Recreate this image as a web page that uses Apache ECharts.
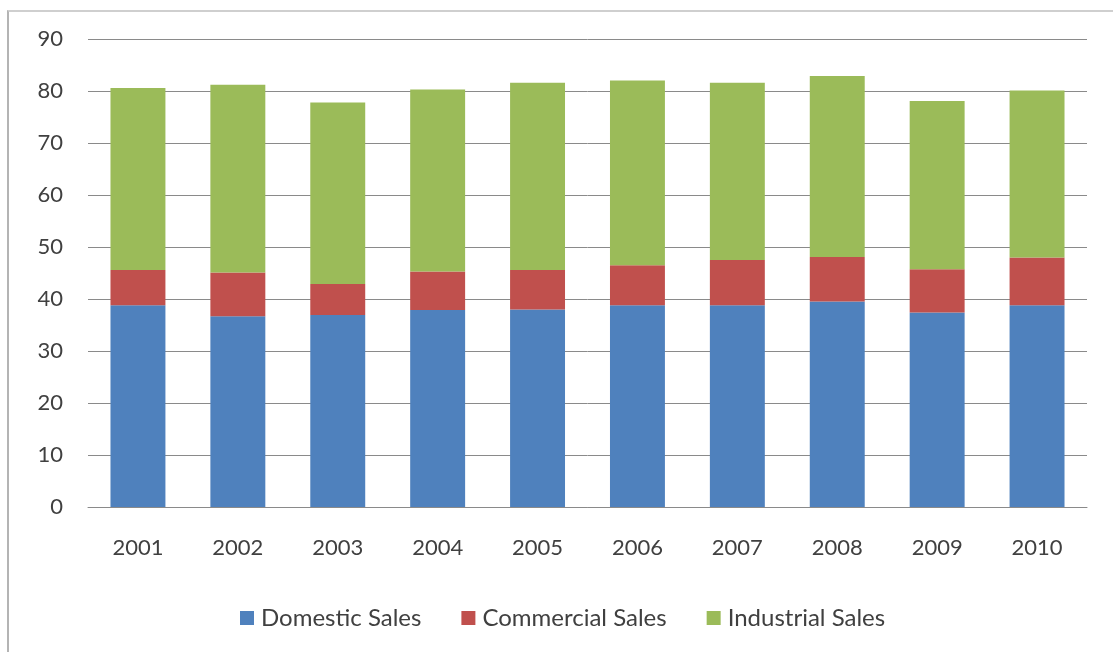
<!DOCTYPE html>
<html>
<head>
<meta charset="utf-8">
<script src="https://cdn.jsdelivr.net/npm/echarts@6/dist/echarts.min.js"></script>
<style>
  html, body { margin: 0; padding: 0; background: #ffffff; }
  #frame {
    position: absolute; left: 7px; top: 10px; width: 1120px; height: 660px;
    border-left: 2px solid #b4b4b4; border-top: 2px solid #cfcfcf;
    box-sizing: border-box;
  }
  #chart { position: absolute; left: 0; top: 0; width: 1113px; height: 652px; }
</style>
</head>
<body>
<div id="frame"></div>
<div id="chart"></div>
<script>
// Yearly sales split into three customer groups (stacked)
const years = ['2001', '2002', '2003', '2004', '2005', '2006', '2007', '2008', '2009', '2010'];
const domesticSales   = [38.8, 36.7, 36.9, 37.9, 38.0, 38.8, 38.8, 39.5, 37.4, 38.8];
const commercialSales = [6.8, 8.4, 6.0, 7.4, 7.6, 7.7, 8.7, 8.6, 8.3, 9.2];
const industrialSales = [35.0, 36.1, 34.9, 35.0, 36.0, 35.5, 34.1, 34.8, 32.4, 32.1];
const seriesNames = ['Domestic Sales', 'Commercial Sales', 'Industrial Sales'];

const FONT = 'Lato, "Open Sans", sans-serif';
const TEXT = '#404040';

const chart = echarts.init(document.getElementById('chart'), null, { renderer: 'canvas' });

function barSeries(name, data, color) {
  return {
    name: name,
    type: 'bar',
    stack: 'total',
    barWidth: '55%',
    data: data,
    itemStyle: { color: color },
    emphasis: { disabled: true }
  };
}

chart.setOption({
  animation: false,
  textStyle: { fontFamily: FONT },
  grid: { left: 88, right: 26, top: 39, bottom: 145, containLabel: false },
  legend: {
    data: seriesNames,
    top: 606,
    left: 240,
    itemWidth: 14,
    itemHeight: 14,
    itemGap: 40,
    icon: 'rect',
    padding: 0,
    textStyle: { fontFamily: FONT, fontSize: 24, color: TEXT, padding: [0, 0, 0, 2] }
  },
  xAxis: {
    type: 'category',
    data: years,
    axisTick: { show: false },
    axisLine: { show: true, lineStyle: { color: '#8a8a8a', width: 1 } },
    axisLabel: { color: TEXT, fontSize: 22, fontFamily: FONT, margin: 30 }
  },
  yAxis: {
    type: 'value',
    min: 0,
    max: 90,
    interval: 10,
    axisLine: { show: false },
    axisTick: { show: false },
    axisLabel: { color: TEXT, fontSize: 22, fontFamily: FONT, margin: 25 },
    splitLine: { lineStyle: { color: '#8a8a8a', width: 1 } }
  },
  series: [
    barSeries(seriesNames[0], domesticSales, '#4F81BD'),
    barSeries(seriesNames[1], commercialSales, '#C0504D'),
    barSeries(seriesNames[2], industrialSales, '#9BBB59')
  ]
});
</script>
</body>
</html>
